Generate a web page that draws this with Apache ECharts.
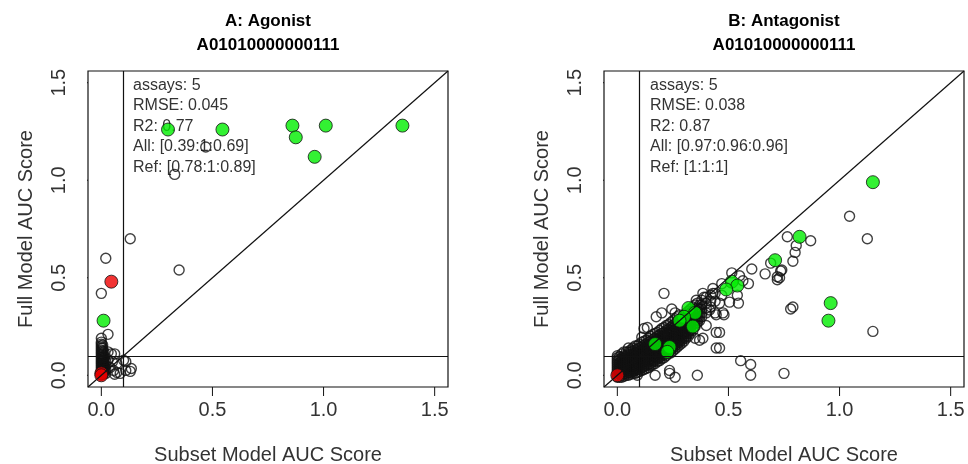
<!DOCTYPE html>
<html>
<head>
<meta charset="utf-8">
<script src="https://cdn.jsdelivr.net/npm/echarts@6/dist/echarts.min.js"></script>
<style>html,body{margin:0;padding:0;background:#fff}#c{width:968px;height:464px}</style>
</head>
<body>
<div id="c"></div>
<script>
// ---------- data ----------
const axisRange = [-0.06, 1.56];
const tickValues = [0, 0.5, 1.0, 1.5];
const tickLabels = ['0.0', '0.5', '1.0', '1.5'];
const refCut = 0.1;
const panelTitles = ['A: Agonist\nA01010000000111', 'B: Antagonist\nA01010000000111'];
const xTitle = 'Subset Model AUC Score';
const yTitle = 'Full Model AUC Score';
const annoA = ['assays: 5', 'RMSE: 0.045', 'R2: 0.77', 'All: [0.39:1:0.69]', 'Ref: [0.78:1:0.89]'];
const annoB = ['assays: 5', 'RMSE: 0.038', 'R2: 0.87', 'All: [0.97:0.96:0.96]', 'Ref: [1:1:1]'];

// Panel A
const openA = [
  [0.13,0.70],[0.35,0.54],[0.02,0.60],[0.0,0.42],[0.03,0.21],[0.33,1.03],[0.47,1.17],
  [0.03,0.12],[0.045,0.11],[0.06,0.11],[0.10,0.077],[0.11,0.07],[0.07,0.06],[0.07,0.015],[0.085,0.01],
  [0.135,0.035],[0.11,0.025],[0.04,0.04],[0.055,0.025],[0.03,0.08],[0.05,0.07],[0.13,0.02],[0.06,0.005]
];
// stacked column of points near x = 0: [x, [y values]]
const columnA = [
  [0.000,[0,0.01,0.02,0.03,0.04,0.05,0.06,0.07,0.08,0.09,0.10,0.11,0.12,0.13,0.14,0.15,0.16,0.17,0.19]],
  [0.006,[0.005,0.015,0.025,0.035,0.045,0.055,0.065,0.075,0.085,0.095,0.11,0.125,0.14,0.155]],
  [0.012,[0.01,0.02,0.03,0.04,0.05,0.06,0.07,0.08,0.09,0.10,0.12]],
  [0.020,[0.01,0.03,0.05,0.07]]
];
const greenA = [[0.30,1.26],[0.545,1.26],[0.86,1.28],[0.875,1.22],[1.01,1.28],[0.96,1.12],[1.355,1.28],[0.01,0.28]];
const redA = [[0.045,0.48],[0.0,0.01],[0.0,0.0]];

// Panel B
const openB = [
  [1.045,0.815],[1.125,0.70],[1.15,0.225],[0.765,0.71],[0.87,0.69],[0.805,0.665],[0.80,0.63],[0.79,0.585],
  [0.78,0.34],[0.79,0.35],[0.75,0.01],[0.74,0.54],[0.73,0.50],[0.69,0.575],[0.735,0.535],[0.72,0.505],
  [0.665,0.52],[0.605,0.545],[0.515,0.525],[0.55,0.51],[0.59,0.47],[0.565,0.485],[0.43,0.42],[0.39,0.40],
  [0.54,0.41],[0.47,0.41],[0.355,0.385],[0.555,0.075],[0.60,0.055],[0.60,0.0],[0.46,0.22],[0.46,0.14],
  [0.545,0.37],[0.505,0.375],[0.475,0.32],[0.48,0.31],[0.72,0.49],[0.21,0.42],[0.36,0.0],[0.26,-0.01],
  [0.235,0.01],[0.17,0.0],[0.09,0.0],[0.235,0.025],[0.37,0.18],[0.385,0.19],[0.44,0.32],[0.47,0.47],
  [0.43,0.445],[0.385,0.42],[0.46,0.37],[0.415,0.335],[0.40,0.255],[0.135,0.245],[0.20,0.32],[0.245,0.34],
  [0.26,0.32],[0.35,0.19],[0.12,0.24],[0.175,0.30],[0.11,0.195],[0.445,0.31],[0.445,0.22],[0.445,0.14]
];
// dense band columns: [x, [y values]]
const denseB = [
  [0.00,[-0.01,0,0.01,0.02,0.03,0.04,0.05,0.06,0.07,0.08,0.09,0.10]],
  [0.01,[-0.01,0.005,0.015,0.025,0.035,0.045,0.055,0.065,0.08,0.095]],
  [0.02,[-0.01,0,0.01,0.02,0.03,0.04,0.05,0.06,0.07,0.08,0.09,0.11]],
  [0.03,[-0.005,0.01,0.02,0.035,0.045,0.055,0.065,0.075,0.09,0.10,0.12]],
  [0.04,[0,0.01,0.02,0.03,0.04,0.05,0.06,0.07,0.08,0.09,0.10,0.12]],
  [0.05,[0,0.015,0.025,0.035,0.045,0.055,0.065,0.08,0.09,0.105,0.12,0.14]],
  [0.06,[0.005,0.015,0.025,0.035,0.05,0.06,0.07,0.08,0.09,0.105,0.12,0.13]],
  [0.07,[0.01,0.02,0.03,0.045,0.055,0.065,0.075,0.09,0.10,0.11,0.125,0.14]],
  [0.08,[0.01,0.025,0.035,0.045,0.055,0.065,0.08,0.09,0.10,0.115,0.13,0.15]],
  [0.09,[0.015,0.03,0.04,0.05,0.06,0.075,0.085,0.095,0.11,0.12,0.135,0.15]],
  [0.10,[0.02,0.03,0.045,0.055,0.065,0.08,0.09,0.10,0.11,0.125,0.14,0.16]],
  [0.11,[0.025,0.04,0.05,0.06,0.075,0.085,0.095,0.11,0.12,0.13,0.145,0.17]],
  [0.12,[0.03,0.045,0.055,0.07,0.08,0.09,0.105,0.115,0.125,0.14,0.155,0.175]],
  [0.13,[0.035,0.05,0.06,0.075,0.085,0.10,0.11,0.12,0.135,0.145,0.16,0.18]],
  [0.14,[0.04,0.055,0.07,0.08,0.09,0.105,0.115,0.13,0.14,0.155,0.17,0.19]],
  [0.15,[0.05,0.06,0.075,0.085,0.10,0.11,0.125,0.135,0.15,0.16,0.175,0.20]],
  [0.16,[0.055,0.07,0.08,0.095,0.105,0.12,0.13,0.145,0.155,0.17,0.185,0.21]],
  [0.17,[0.06,0.075,0.09,0.10,0.115,0.125,0.14,0.15,0.165,0.175,0.19,0.215]],
  [0.18,[0.07,0.085,0.095,0.11,0.12,0.135,0.145,0.16,0.17,0.185,0.20,0.22]],
  [0.19,[0.075,0.09,0.105,0.115,0.13,0.14,0.155,0.165,0.18,0.19,0.205,0.23]],
  [0.20,[0.085,0.10,0.11,0.125,0.135,0.15,0.16,0.175,0.185,0.20,0.215,0.24]],
  [0.21,[0.09,0.105,0.12,0.13,0.145,0.155,0.17,0.18,0.195,0.205,0.22,0.245]],
  [0.22,[0.10,0.115,0.125,0.14,0.15,0.165,0.175,0.19,0.20,0.215,0.23,0.255]],
  [0.23,[0.11,0.12,0.135,0.145,0.16,0.17,0.185,0.195,0.21,0.22,0.235,0.26]],
  [0.24,[0.115,0.13,0.14,0.155,0.165,0.18,0.19,0.205,0.215,0.23,0.245,0.27]],
  [0.25,[0.125,0.14,0.15,0.165,0.175,0.19,0.20,0.215,0.225,0.24,0.255,0.28]],
  [0.26,[0.135,0.15,0.16,0.175,0.185,0.20,0.21,0.225,0.235,0.25,0.265,0.29]],
  [0.27,[0.145,0.16,0.17,0.185,0.195,0.21,0.22,0.235,0.245,0.26,0.275,0.30]],
  [0.28,[0.155,0.17,0.18,0.195,0.205,0.22,0.23,0.245,0.255,0.27,0.285,0.31]],
  [0.29,[0.165,0.18,0.19,0.205,0.215,0.23,0.24,0.255,0.265,0.28,0.295]],
  [0.30,[0.175,0.19,0.20,0.215,0.225,0.24,0.25,0.265,0.275,0.29,0.31]],
  [0.31,[0.19,0.20,0.215,0.225,0.24,0.25,0.265,0.275,0.29,0.30,0.32]],
  [0.32,[0.20,0.215,0.225,0.24,0.25,0.265,0.275,0.29,0.30,0.315,0.33]],
  [0.33,[0.215,0.23,0.245,0.255,0.27,0.28,0.295,0.305,0.32,0.34]],
  [0.34,[0.23,0.245,0.26,0.275,0.29,0.30,0.315,0.33,0.35]],
  [0.35,[0.25,0.265,0.28,0.295,0.31,0.325,0.34,0.36]],
  [0.36,[0.27,0.285,0.30,0.315,0.33,0.345,0.37]],
  [0.37,[0.28,0.30,0.32,0.34,0.36]],
  [0.38,[0.30,0.32,0.34,0.36,0.385]],
  [0.40,[0.32,0.345,0.37,0.40]],
  [0.42,[0.35,0.38,0.41]],
  [0.44,[0.38,0.42]]
];
const greenB = [[1.15,0.99],[0.82,0.71],[0.96,0.37],[0.95,0.28],[0.71,0.59],[0.515,0.48],[0.54,0.46],[0.49,0.44],
  [0.32,0.345],[0.35,0.32],[0.30,0.30],[0.28,0.28],[0.34,0.25],[0.17,0.16],[0.235,0.145],[0.225,0.12]];
const redB = [[0.0,0.0]];

// ---------- build ----------
function expand(cols) {
  const out = [];
  cols.forEach(([x, ys]) => ys.forEach(y => out.push([x, y])));
  return out;
}

const FONT = 'Liberation Sans, Arial, sans-serif';
const TXT = '#333';
const TICK_LEN = 9;
const panels = [{left: 88, top: 71, width: 360, height: 316}, {left: 604, top: 71, width: 360, height: 316}];
const span = axisRange[1] - axisRange[0];

const grids = panels.map(p => Object.assign({show: true, outerBoundsMode: 'none', containLabel: false,
  borderColor: '#111', borderWidth: 1.2, backgroundColor: 'transparent'}, p));

function xAxis(i) {
  return {
    type: 'value', gridIndex: i, min: axisRange[0], max: axisRange[1],
    name: xTitle, nameLocation: 'middle', nameGap: 58,
    nameTextStyle: {fontFamily: FONT, fontSize: 20, color: TXT},
    axisLine: {show: false, onZero: false}, axisTick: {show: false},
    axisLabel: {show: true, customValues: tickValues, margin: 13, fontFamily: FONT, fontSize: 20, color: TXT,
      formatter: v => tickLabels[tickValues.indexOf(v)] ?? ''},
    splitLine: {show: false}
  };
}
function yAxis(i) {
  return {
    type: 'value', gridIndex: i, min: axisRange[0], max: axisRange[1],
    name: yTitle, nameLocation: 'middle', nameGap: 52,
    nameTextStyle: {fontFamily: FONT, fontSize: 20, color: TXT},
    axisLine: {show: false, onZero: false}, axisTick: {show: false},
    axisLabel: {show: true, rotate: 90, customValues: tickValues, margin: 19, fontFamily: FONT, fontSize: 20, color: TXT,
      formatter: v => tickLabels[tickValues.indexOf(v)] ?? ''},
    splitLine: {show: false}
  };
}

// outward tick marks at tickValues, drawn as short unclipped line series
function tickSeries(i) {
  const p = panels[i];
  const dy = TICK_LEN * span / p.height, dx = TICK_LEN * span / p.width;
  const out = [];
  tickValues.forEach(v => {
    out.push({type: 'line', xAxisIndex: i, yAxisIndex: i, clip: false, silent: true, showSymbol: false,
      symbol: 'none', z: 5, lineStyle: {color: '#111', width: 1}, animation: false,
      data: [[v, axisRange[0]], [v, axisRange[0] - dy]]});
    out.push({type: 'line', xAxisIndex: i, yAxisIndex: i, clip: false, silent: true, showSymbol: false,
      symbol: 'none', z: 5, lineStyle: {color: '#111', width: 1}, animation: false,
      data: [[axisRange[0], v], [axisRange[0] - dx, v]]});
  });
  return out;
}

const openStyle = {color: 'rgba(0,0,0,0)', borderColor: '#111', borderWidth: 1.4};
function refLines() {
  return {
    silent: true, symbol: 'none', animation: false, label: {show: false},
    lineStyle: {color: '#111', width: 1.2, type: 'solid'},
    data: [
      {xAxis: refCut}, {yAxis: refCut},
      [{coord: [axisRange[0], axisRange[0]]}, {coord: [axisRange[1], axisRange[1]]}]
    ]
  };
}
function panelSeries(i, open, green, red) {
  return [
    {type: 'scatter', xAxisIndex: i, yAxisIndex: i, data: open, symbol: 'circle', symbolSize: 10,
      itemStyle: openStyle, markLine: refLines(), z: 2},
    {type: 'scatter', xAxisIndex: i, yAxisIndex: i, data: green, symbol: 'circle', symbolSize: 13,
      itemStyle: {color: '#00ee00', borderColor: '#111', borderWidth: 1}, z: 3},
    {type: 'scatter', xAxisIndex: i, yAxisIndex: i, data: red, symbol: 'circle', symbolSize: 13,
      itemStyle: {color: '#ee0000', borderColor: '#111', borderWidth: 1}, z: 4},
    ...tickSeries(i)
  ];
}

const chart = echarts.init(document.getElementById('c'), null, {renderer: 'canvas'});
chart.setOption({
  animation: false,
  backgroundColor: '#fff',
  title: [
    {text: panelTitles[0], left: 268, top: 9, textAlign: 'center', padding: 0,
      textStyle: {fontFamily: FONT, fontSize: 17, fontWeight: 'bold', color: '#000', lineHeight: 24}},
    {text: panelTitles[1], left: 784, top: 9, textAlign: 'center', padding: 0,
      textStyle: {fontFamily: FONT, fontSize: 17, fontWeight: 'bold', color: '#000', lineHeight: 24}},
    {text: annoA.join('\n'), left: 133, top: 75, padding: 0, z: 0,
      textStyle: {fontFamily: FONT, fontSize: 16, fontWeight: 'normal', color: TXT, lineHeight: 20.5}},
    {text: annoB.join('\n'), left: 650, top: 75, padding: 0, z: 0,
      textStyle: {fontFamily: FONT, fontSize: 16, fontWeight: 'normal', color: TXT, lineHeight: 20.5}}
  ],
  grid: grids,
  xAxis: [xAxis(0), xAxis(1)],
  yAxis: [yAxis(0), yAxis(1)],
  series: [
    ...panelSeries(0, openA.concat(expand(columnA)), greenA, redA),
    ...panelSeries(1, openB.concat(expand(denseB)), greenB, redB)
  ]
});
</script>
</body>
</html>
